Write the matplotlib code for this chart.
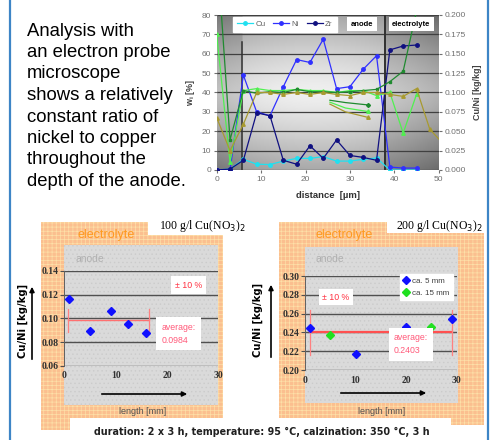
import numpy as np
import matplotlib.pyplot as plt
from matplotlib.patches import Rectangle

W, H = 493, 440

# --- top chart: electron probe profile (w_i in %, distance in µm)
dist = [0, 3, 6, 9, 12, 15, 18, 21, 24, 27, 30, 33, 36, 39, 42, 45]
cu = [0, 0.5, 5.5, 3, 2.8, 4.6, 6, 6, 6.9, 4.6, 4.6, 5.5, 6.2, 0, 0, 0]
ni = [0, 0, 49, 30, 28, 43, 57, 55.5, 67.5, 42, 43, 52, 59, 1.5, 1, 1]
zr = [0, 0.5, 5, 29.5, 28, 5, 3, 12.5, 6, 15.5, 7.5, 6.5, 5, 62, 64, 64.5]
# ratio curves (right axis, kg/kg)
ratio_light = [0.175, 0.01, 0.1025, 0.105, 0.1025, 0.1025, 0.104, 0.1025,
               0.1025, 0.1, 0.1025, 0.1025, 0.096, 0.1, 0.0475, 0.0975]
ratio_dark = [0.29, 0.039, 0.1025, 0.099, 0.101, 0.1, 0.104, 0.101,
              0.101, 0.1, 0.101, 0.1025, 0.104, 0.114, 0.1275, 0.205]
dist_khaki = [0, 3, 6, 9, 12, 15, 18, 21, 24, 27, 30, 33, 36, 39, 42, 45, 48, 51]
ratio_khaki = [0.0675, 0.025, 0.059, 0.1, 0.1, 0.0975, 0.1, 0.0975, 0.1,
               0.0975, 0.096, 0.1, 0.1, 0.0975, 0.095, 0.105, 0.0525, 0.034]
# stray short strokes in the middle of the plot
stroke_x = [25.5, 29, 34]
stroke_dark = [0.09, 0.087, 0.084]
stroke_light = [0.0875, 0.08, 0.0755]
stroke_khaki = [0.085, 0.075, 0.068]
anode_edge = 5.6
electrolyte_edge = 38

# --- bottom left: 100 g/l
len_100 = [1, 5, 9, 12.5, 16]
ratio_100 = [0.116, 0.089, 0.106, 0.095, 0.0875]
avg_100 = 0.0984
span_100 = [0.65, 16.5]

# --- bottom right: 200 g/l
len_5mm = [1, 10, 20, 29]
ratio_5mm = [0.2445, 0.2165, 0.2455, 0.254]
len_15mm = [5, 25]
ratio_15mm = [0.2375, 0.2455]
avg_200 = 0.2403
span_200 = [0.9, 29.1]

text_lines = ['Analysis with', 'an electron probe', 'microscope',
              'shows a relatively', 'constant ratio of', 'nickel to copper',
              'throughout the', 'depth of the anode.']
caption = 'duration: 2 x 3 h, temperature: 95 °C, calzination: 350 °C, 3 h'

plt.rcParams['font.family'] = ['Liberation Sans', 'DejaVu Sans']
plt.rcParams['hatch.linewidth'] = 0.5

fig = plt.figure(figsize=(W / 100, H / 100), dpi=100)


def add_ax(l, t, r, b, z=1):
    return fig.add_axes([l / W, 1 - b / H, (r - l) / W, (b - t) / H], zorder=z)


# background layer in pixel coords
bg = fig.add_axes([0, 0, 1, 1], zorder=0)
bg.set_xlim(0, W)
bg.set_ylim(H, 0)
bg.axis('off')

orange = '#fbbf8f'
bg.add_patch(Rectangle((40.7, 221.7), 182, 208.3, fc=orange,
                       ec='#fde0a8', hatch='++++', lw=0))
bg.add_patch(Rectangle((279, 222), 205, 203, fc=orange,
                       ec='#fde0a8', hatch='++++', lw=0))
bg.add_patch(Rectangle((64, 245), 154, 160, fc='#dadada',
                       ec='#cbcbcb', hatch='....', lw=0))
bg.add_patch(Rectangle((305, 247), 153, 156, fc='#dadada',
                       ec='#cbcbcb', hatch='....', lw=0))
# white label boxes
bg.add_patch(Rectangle((148, 218), 99, 17, fc='white', lw=0))
bg.add_patch(Rectangle((387, 218), 97, 15, fc='white', lw=0))
bg.add_patch(Rectangle((70, 418), 381, 22, fc='white', lw=0))

bg.plot([10, 10], [0, H], color='#3d85c6', lw=1.6)
bg.plot([488, 488], [0, H], color='#3d85c6', lw=1.6)

for i, line in enumerate(text_lines):
    bg.text(27, 31 + i * 21.5, line, fontsize=13.3, va='center', ha='left',
            color='black')

serif = ['Liberation Serif', 'DejaVu Serif']
bg.text(246, 226.5, '100 g/l Cu(NO$_3$)$_2$', fontsize=8.5, ha='right',
        va='center', family=serif)
bg.text(483, 225.5, '200 g/l Cu(NO$_3$)$_2$', fontsize=8.5, ha='right',
        va='center', family=serif)
bg.text(77, 235, 'electrolyte', fontsize=9, color='#ff9a20', va='center')
bg.text(316, 235, 'electrolyte', fontsize=9, color='#ff9a20', va='center')
bg.text(76, 259, 'anode', fontsize=7.5, color='#b0b0b0', va='center')
bg.text(316, 259, 'anode', fontsize=7.5, color='#b0b0b0', va='center')
bg.text(143, 411, 'length [mm]', fontsize=6.5, color='#505050',
        ha='center', va='center')
bg.text(382, 411, 'length [mm]', fontsize=6.5, color='#505050',
        ha='center', va='center')
bg.text(23, 321, 'Cu/Ni [kg/kg]', fontsize=7.2, weight='bold', rotation=90,
        ha='center', va='center', family='DejaVu Sans')
bg.text(258, 320, 'Cu/Ni [kg/kg]', fontsize=7.2, weight='bold', rotation=90,
        ha='center', va='center', family='DejaVu Sans')
arrow = dict(arrowstyle='-|>', color='black', lw=1.2, mutation_scale=7)
bg.annotate('', xy=(32, 284), xytext=(32, 362), arrowprops=arrow)
bg.annotate('', xy=(271, 282), xytext=(271, 360), arrowprops=arrow)
bg.annotate('', xy=(190, 394), xytext=(99, 394), arrowprops=arrow)
bg.annotate('', xy=(429, 393), xytext=(338, 393), arrowprops=arrow)
bg.text(262, 432, caption, fontsize=6.9, weight='bold', ha='center',
        va='center', family='DejaVu Sans', color='#202020')

# ---------------- top chart
ax = add_ax(216.7, 15, 438.7, 170)
gx = np.linspace(0, 50, 200)
gy = np.linspace(0, 80, 160)
GX, GY = np.meshgrid(gx, gy)
shade = 0.94 - 0.28 * (np.abs(GY - 40) / 40) ** 1.3 - 0.14 * (np.abs(GX - 22) / 28) ** 2
shade = np.where((GX < anode_edge) | (GX > electrolyte_edge), shade - 0.1, shade)
ax.imshow(shade, extent=[0, 50, 0, 80], origin='lower', cmap='gray',
          vmin=0, vmax=1, aspect='auto', zorder=0)
ax.set_xlim(0, 50)
ax.set_ylim(0, 80)
ax.set_yticks(range(0, 81, 10))
ax.set_xticks(range(0, 51, 10))
ax.grid(axis='y', color='#404040', lw=0.9)
ax.set_axisbelow(False)
for s in ax.spines.values():
    s.set_visible(False)
ax.tick_params(labelsize=6, colors='#707070', length=2, pad=2)
ax.set_ylabel('w$_\\mathregular{i}$ [%]', fontsize=6.5, weight='bold',
              color='#404040', labelpad=3)
ax.set_xlabel('distance  [µm]', fontsize=6.8, weight='bold',
              color='#303030', labelpad=6)
ax.plot([anode_edge, anode_edge], [0, 66], color='#303030', lw=1.1, zorder=3)
ax.axvline(electrolyte_edge, color='#303030', lw=1.4, zorder=3)
h_cu, = ax.plot(dist, cu, color='#20e0f0', lw=0.9, marker='o', ms=2.5,
                label='Cu', zorder=4)
h_ni, = ax.plot(dist, ni, color='#3030ff', lw=0.9, marker='o', ms=2.5,
                label='Ni', zorder=4)
h_zr, = ax.plot(dist, zr, color='#101080', lw=0.9, marker='o', ms=2.5,
                label='Zr', zorder=4)

ax2 = ax.twinx()
ax2.set_ylim(0, 0.2)
ax2.set_yticks(np.arange(0, 0.2001, 0.025))
ax2.set_yticklabels([f'{v:.3f}' for v in np.arange(0, 0.2001, 0.025)])
for s in ax2.spines.values():
    s.set_visible(False)
ax2.tick_params(labelsize=6, colors='#707070', length=2, pad=2)
ax2.set_ylabel('Cu/Ni [kg/kg]', fontsize=6.5, weight='bold', color='#404040',
               labelpad=5)
ax2.plot(dist, ratio_light, color='#50f050', lw=0.9, marker='^', ms=2.5)
ax2.plot(dist, ratio_dark, color='#208a30', lw=0.9, marker='s', ms=2)
ax2.plot(dist_khaki, ratio_khaki, color='#a89a30', lw=0.9, marker='^', ms=2.5)
ax2.plot(stroke_x, stroke_dark, color='#208a30', lw=0.9, marker='D', ms=2,
         markevery=[2])
ax2.plot(stroke_x, stroke_light, color='#50f050', lw=0.9, marker='^', ms=2.5,
         markevery=[2])
ax2.plot(stroke_x, stroke_khaki, color='#a89a30', lw=0.9, marker='^', ms=2.5,
         markevery=[2])
leg = ax2.legend(handles=[h_cu, h_ni, h_zr], loc='upper left', ncol=3,
                 bbox_to_anchor=(0.075, 0.99), fontsize=5.8, frameon=True,
                 fancybox=False, borderpad=0.5, handlelength=2,
                 columnspacing=0.9, handletextpad=0.3, borderaxespad=0)
leg.get_frame().set_edgecolor('white')
leg.get_frame().set_alpha(1)
for t in leg.get_texts():
    t.set_color('#606060')
ax2.text(32.7, 75.2 / 400, 'anode', fontsize=5.5, weight='bold',
         ha='center', va='center',
         bbox=dict(fc='white', ec='none', boxstyle='square,pad=0.45'))
ax2.text(43.8, 75.2 / 400, 'electrolyte', fontsize=5.5, weight='bold',
         ha='center', va='center',
         bbox=dict(fc='white', ec='none', boxstyle='square,pad=0.45'))

# ---------------- bottom charts
def ratio_chart(axb, ylo, yhi, step):
    axb.set_facecolor('none')
    axb.set_xlim(0, 30)
    axb.set_ylim(ylo, yhi)
    axb.set_xticks([0, 10, 20, 30])
    ticks = np.arange(ylo, yhi + step / 2, step)
    axb.set_yticks(ticks)
    axb.set_yticklabels([f'{v:.2f}' for v in ticks])
    axb.grid(axis='y', color='#505050', lw=1)
    for k, s in axb.spines.items():
        s.set_visible(k == 'left')
    axb.spines['left'].set_color('#606060')
    axb.spines['left'].set_linewidth(0.7)
    axb.tick_params(axis='y', length=3, color='#505050', pad=1)
    axb.tick_params(axis='x', length=0, pad=4)
    for lab in axb.get_xticklabels() + axb.get_yticklabels():
        lab.set_family(serif)
        lab.set_weight('bold')
        lab.set_fontsize(7)
        lab.set_color('#303030')


axl = add_ax(64.3, 271, 218.3, 365.7, z=2)
ratio_chart(axl, 0.06, 0.14, 0.02)
axl.plot(span_100, [avg_100, avg_100], color='#ff7070', lw=1)
for xe in span_100:
    axl.plot([xe, xe], [avg_100 * 0.9, avg_100 * 1.1], color='#ff8080', lw=0.9)
axl.plot(len_100, ratio_100, 'D', color='#1010ff', ms=3.8, clip_on=False)
axl.text(24.2, 0.128, '± 10 %', color='#ff3040', fontsize=6.3, ha='center',
         va='center', bbox=dict(fc='white', ec='none', boxstyle='square,pad=0.5'))
axl.text(18.9, 0.087, 'average:\n0.0984', color='#ff5a7a', fontsize=6.3,
         ha='left', va='center', linespacing=1.6,
         bbox=dict(fc='white', ec='none', boxstyle='square,pad=0.6'))

axr = add_ax(305, 276, 456.7, 370, z=2)
ratio_chart(axr, 0.20, 0.30, 0.02)
axr.plot(span_200, [avg_200, avg_200], color='#ff5050', lw=1.6)
for xe in span_200:
    axr.plot([xe, xe], [avg_200 * 0.9, avg_200 * 1.1], color='#ff8080', lw=0.9)
axr.plot(len_5mm, ratio_5mm, 'D', color='#1010ff', ms=3.8, label='ca. 5 mm',
         clip_on=False)
axr.plot(len_15mm, ratio_15mm, 'D', color='#20e020', ms=3.8, label='ca. 15 mm',
         clip_on=False)
axr.text(6.1, 0.2775, '± 10 %', color='#ff3040', fontsize=6.3, ha='center',
         va='center', bbox=dict(fc='white', ec='none', boxstyle='square,pad=0.4'))
axr.text(17.6, 0.2275, 'average:\n0.2403', color='#ff5a7a', fontsize=6.3,
         ha='left', va='center', linespacing=1.6,
         bbox=dict(fc='white', ec='none', boxstyle='square,pad=0.6'))
lg = axr.legend(loc='upper left', bbox_to_anchor=(0.626, 1.02), fontsize=5.8,
                frameon=True, fancybox=False, borderaxespad=0, borderpad=0.4,
                handlelength=0.8, handletextpad=0.3, labelspacing=0.5)
lg.get_frame().set_edgecolor('white')
lg.get_frame().set_alpha(1)
for t in lg.get_texts():
    t.set_color('#404040')

fig.savefig('out.png', dpi=100)
